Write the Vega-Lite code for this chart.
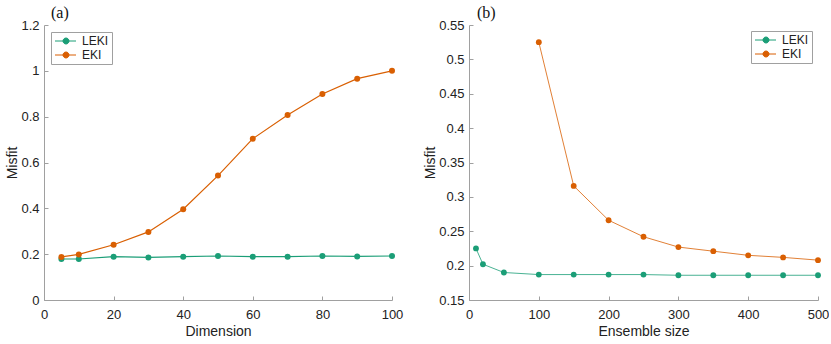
{
  "$schema": "https://vega.github.io/schema/vega-lite/v6.json",
  "background": "white",
  "padding": {"left": 5, "top": 5, "right": 0, "bottom": 0},
  "spacing": 20,
  "config": {
    "view": {"stroke": null},
    "font": "Liberation Sans",
    "axis": {
      "grid": false,
      "domainColor": "#a0a0a0",
      "tickColor": "#a0a0a0",
      "tickSize": -4,
      "labelFont": "Liberation Sans",
      "labelFontSize": 13,
      "labelColor": "#222222",
      "titleFont": "Liberation Sans",
      "titleFontSize": 14,
      "titleFontWeight": "normal",
      "titleColor": "#222222"
    },
    "axisX": {"labelPadding": 12, "titlePadding": 3, "labelFlush": false},
    "axisY": {"labelPadding": 9, "titlePadding": 1},
    "legend": {
      "title": null,
      "labelFont": "Liberation Sans",
      "labelFontSize": 12,
      "labelColor": "#222222",
      "fillColor": "white",
      "strokeColor": "#a0a0a0",
      "padding": 3,
      "rowPadding": 2,
      "symbolType": "M-1,0L3.2,0M0.6,0A0.6,0.6,0,1,1,1.8,0A0.6,0.6,0,1,1,0.6,0Z",
      "symbolSize": 100,
      "symbolStrokeWidth": 1,
      "labelOffset": 16
    },
    "title": {"font": "Liberation Serif", "fontSize": 16, "fontWeight": "normal", "anchor": "start", "frame": "group", "color": "#111111", "offset": 3}
  },
  "resolve": {"scale": {"color": "shared"}, "legend": {"color": "independent"}},
  "hconcat": [
    {
      "title": {"text": "(a)", "dx": 7, "dy": 5},
      "width": 348,
      "height": 275,
      "data": {"values": [
        {"x": 5, "y": 0.179, "method": "LEKI"},
        {"x": 10, "y": 0.179, "method": "LEKI"},
        {"x": 20, "y": 0.189, "method": "LEKI"},
        {"x": 30, "y": 0.186, "method": "LEKI"},
        {"x": 40, "y": 0.189, "method": "LEKI"},
        {"x": 50, "y": 0.192, "method": "LEKI"},
        {"x": 60, "y": 0.189, "method": "LEKI"},
        {"x": 70, "y": 0.189, "method": "LEKI"},
        {"x": 80, "y": 0.192, "method": "LEKI"},
        {"x": 90, "y": 0.190, "method": "LEKI"},
        {"x": 100, "y": 0.192, "method": "LEKI"},
        {"x": 5, "y": 0.188, "method": "EKI"},
        {"x": 10, "y": 0.199, "method": "EKI"},
        {"x": 20, "y": 0.241, "method": "EKI"},
        {"x": 30, "y": 0.297, "method": "EKI"},
        {"x": 40, "y": 0.396, "method": "EKI"},
        {"x": 50, "y": 0.543, "method": "EKI"},
        {"x": 60, "y": 0.704, "method": "EKI"},
        {"x": 70, "y": 0.807, "method": "EKI"},
        {"x": 80, "y": 0.899, "method": "EKI"},
        {"x": 90, "y": 0.966, "method": "EKI"},
        {"x": 100, "y": 1.0, "method": "EKI"}
      ]},
      "encoding": {
        "x": {"field": "x", "type": "quantitative", "title": "Dimension",
              "scale": {"domain": [0, 100], "nice": false},
              "axis": {"values": [0, 20, 40, 60, 80, 100]}},
        "y": {"field": "y", "type": "quantitative", "title": "Misfit",
              "scale": {"domain": [0, 1.2], "nice": false},
              "axis": {"values": [0, 0.2, 0.4, 0.6, 0.8, 1, 1.2], "format": "~g"}},
        "color": {"field": "method", "type": "nominal",
                  "scale": {"domain": ["LEKI", "EKI"], "range": ["#1b9e77", "#d95f02"]},
                  "legend": {"orient": "top-left", "offset": 7,
                             "encode": {"symbols": {"update": {"fill": {"scale": "color", "field": "value"}, "stroke": {"scale": "color", "field": "value"}}}}}}
      },
      "layer": [
        {"mark": {"type": "line", "strokeWidth": 1.2}},
        {"mark": {"type": "point", "filled": true, "size": 36, "opacity": 1}}
      ]
    },
    {
      "title": {"text": "(b)", "dx": 8, "dy": 5},
      "width": 349,
      "height": 275,
      "data": {"values": [
        {"x": 10, "y": 0.225, "method": "LEKI"},
        {"x": 20, "y": 0.202, "method": "LEKI"},
        {"x": 50, "y": 0.190, "method": "LEKI"},
        {"x": 100, "y": 0.187, "method": "LEKI"},
        {"x": 150, "y": 0.187, "method": "LEKI"},
        {"x": 200, "y": 0.187, "method": "LEKI"},
        {"x": 250, "y": 0.187, "method": "LEKI"},
        {"x": 300, "y": 0.186, "method": "LEKI"},
        {"x": 350, "y": 0.186, "method": "LEKI"},
        {"x": 400, "y": 0.186, "method": "LEKI"},
        {"x": 450, "y": 0.186, "method": "LEKI"},
        {"x": 500, "y": 0.186, "method": "LEKI"},
        {"x": 100, "y": 0.525, "method": "EKI"},
        {"x": 150, "y": 0.316, "method": "EKI"},
        {"x": 200, "y": 0.266, "method": "EKI"},
        {"x": 250, "y": 0.242, "method": "EKI"},
        {"x": 300, "y": 0.227, "method": "EKI"},
        {"x": 350, "y": 0.221, "method": "EKI"},
        {"x": 400, "y": 0.215, "method": "EKI"},
        {"x": 450, "y": 0.212, "method": "EKI"},
        {"x": 500, "y": 0.208, "method": "EKI"}
      ]},
      "encoding": {
        "x": {"field": "x", "type": "quantitative", "title": "Ensemble size",
              "scale": {"domain": [0, 500], "nice": false},
              "axis": {"values": [0, 100, 200, 300, 400, 500]}},
        "y": {"field": "y", "type": "quantitative", "title": "Misfit",
              "scale": {"domain": [0.15, 0.55], "nice": false, "zero": false},
              "axis": {"values": [0.15, 0.2, 0.25, 0.3, 0.35, 0.4, 0.45, 0.5, 0.55], "format": "~g"}},
        "color": {"field": "method", "type": "nominal",
                  "scale": {"domain": ["LEKI", "EKI"], "range": ["#1b9e77", "#d95f02"]},
                  "legend": {"orient": "top-right", "offset": 6,
                             "encode": {"symbols": {"update": {"fill": {"scale": "color", "field": "value"}, "stroke": {"scale": "color", "field": "value"}}}}}}
      },
      "layer": [
        {"mark": {"type": "line", "strokeWidth": 0.8}},
        {"mark": {"type": "point", "filled": true, "size": 34, "opacity": 1}}
      ]
    }
  ]
}
